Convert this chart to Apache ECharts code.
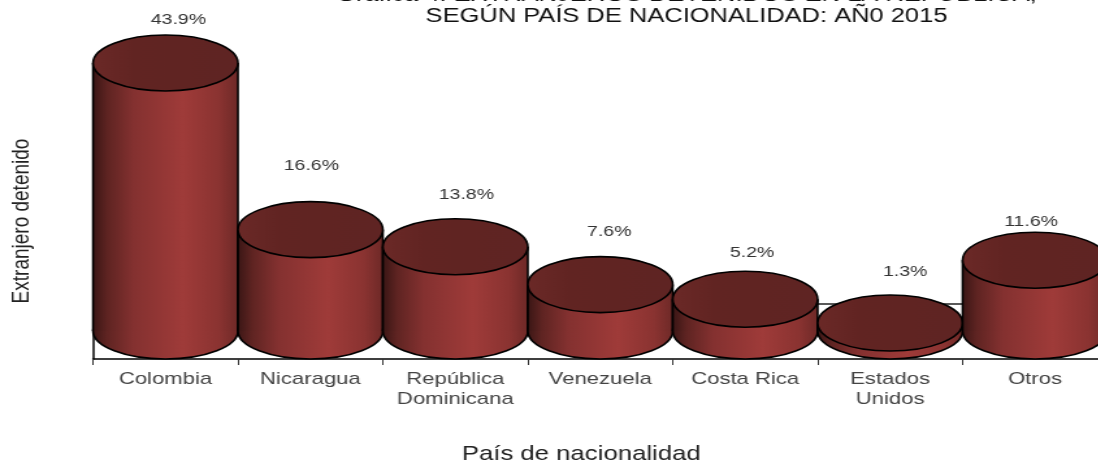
<!DOCTYPE html>
<html>
<head>
<meta charset="utf-8">
<style>
html,body{margin:0;padding:0;background:#fff;overflow:hidden;width:1098px;height:462px}
#wrap{position:absolute;left:0;top:0;width:1098px;height:462px;overflow:hidden}
#c{position:absolute;left:0;top:0;height:462px;transform-origin:0 0}
</style>
<script src="https://cdn.jsdelivr.net/npm/echarts@6/dist/echarts.min.js"></script>
</head>
<body>
<div id="wrap"><div id="c"></div></div>
<script>
const categories = ['Colombia','Nicaragua','República\nDominicana','Venezuela','Costa Rica','Estados\nUnidos','Otros'];
const values = [43.9,16.6,13.8,7.6,5.2,1.3,11.6];
const titleLines = ['Gráfica 4: EXTRANJEROS DETENIDOS EN LA REPÚBLICA,','SEGÚN PAÍS DE NACIONALIDAD: AÑ0 2015'];
const xName = 'País de nacionalidad';
const yName = 'Extranjero detenido';

// The reference is a horizontally stretched image: draw narrower, widen with K.
const K = 1.3;
const floorDepth = 4.586;   // axis units between floor front edge and the cylinders' base centre
const floorBack = 4.42;     // axis value of the floor's rear edge
const labelDx = [13,1,11,9,7,15,-4];
const labelDy = [-15,-36,-24,-25,-18,-23,-10];

const el = document.getElementById('c');
el.style.width = Math.round(1098/K)+'px';
el.style.transform = 'scaleX('+K+')';
const chart = echarts.init(el, null, {renderer:'canvas'});

const bodyFill = new echarts.graphic.LinearGradient(0,0,1,0,[
  {offset:0,color:'#3a1615'},{offset:0.1,color:'#5f2422'},{offset:0.28,color:'#843130'},
  {offset:0.62,color:'#9f3b39'},{offset:0.87,color:'#8a3331'},{offset:1,color:'#6e2927'}]);
const topFill = new echarts.graphic.LinearGradient(0,0,1,0,[
  {offset:0,color:'#6b2927'},{offset:0.3,color:'#612422'},{offset:1,color:'#5f2423'}]);
const edge = {stroke:'#000',lineWidth:1.6};

function renderCylinder(params, api){
  const i = api.value(0), v = api.value(1);
  const top = api.coord([i,v]), base = api.coord([i,0]);
  const rx = api.size([1,0])[0]/2;
  const ry = api.size([0,floorDepth])[1];
  const cx = top[0], l = cx-rx, r = cx+rx;
  return {type:'group',children:[
    {type:'ellipse',shape:{cx:cx,cy:base[1],rx:rx,ry:ry},style:Object.assign({fill:bodyFill},edge)},
    {type:'rect',shape:{x:l,y:top[1],width:2*rx,height:base[1]-top[1]},style:{fill:bodyFill}},
    {type:'line',shape:{x1:l,y1:top[1],x2:l,y2:base[1]},style:edge},
    {type:'line',shape:{x1:r,y1:top[1],x2:r,y2:base[1]},style:edge},
    {type:'ellipse',shape:{cx:cx,cy:top[1],rx:rx,ry:ry},style:Object.assign({fill:topFill},edge)},
    {type:'text',z2:10,style:{
      text:v.toFixed(1)+'%',x:cx+labelDx[i]/K,y:top[1]-ry+labelDy[i],
      align:'center',verticalAlign:'middle',
      font:'15px "Liberation Sans"',fill:'#333'}}
  ]};
}

chart.setOption({
  animation:false,
  backgroundColor:'#fff',
  title:{
    text:titleLines.join('\n'),
    left:680/K,top:-20,textAlign:'center',
    textStyle:{fontFamily:'Liberation Sans',fontWeight:'normal',fontSize:19.6,color:'#111',lineHeight:21}
  },
  grid:{left:93/K,width:1014.5/K,top:63,height:296,containLabel:false,outerBoundsMode:'none'},
  xAxis:{
    type:'category',data:categories,position:'bottom',
    name:xName,nameLocation:'middle',nameGap:86,
    nameTextStyle:{fontFamily:'Liberation Sans',fontSize:19.8,color:'#222',padding:[0,38/K,0,0]},
    axisLine:{onZero:false,lineStyle:{color:'#000',width:1.5}},
    axisTick:{show:true,length:6,lineStyle:{color:'#333',width:1}},
    axisLabel:{interval:0,margin:10,fontFamily:'Liberation Sans',fontSize:17,lineHeight:20,color:'#444',verticalAlign:'top'}
  },
  yAxis:{
    type:'value',min:-floorDepth,max:43.9,
    name:yName,nameLocation:'middle',nameRotate:90,nameGap:45,
    nameTextStyle:{fontFamily:'Liberation Sans',fontSize:19,color:'#222',padding:[0,20,0,0]},
    axisLine:{show:true,onZero:false,lineStyle:{color:'#000',width:1.5}},
    axisTick:{show:false},axisLabel:{show:false},splitLine:{show:false}
  },
  series:[{
    type:'custom',coordinateSystem:'cartesian2d',clip:false,
    encode:{x:0,y:1},
    data:values.map(function(v,i){return [i,v];}),
    renderItem:renderCylinder,
    markLine:{z:1,silent:true,symbol:'none',label:{show:false},
      lineStyle:{color:'#222',type:'solid',width:1.5},
      data:[{yAxis:floorBack}]}
  }]
});
</script>
</body>
</html>
